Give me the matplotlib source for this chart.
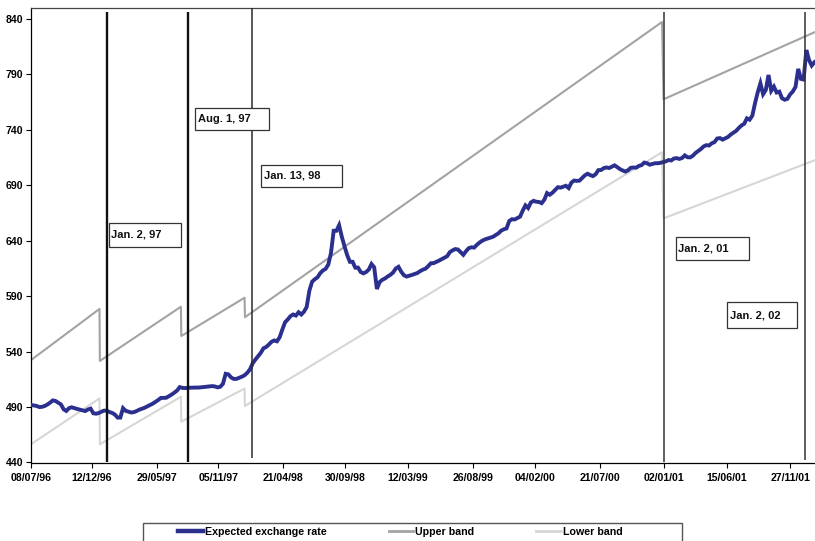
import matplotlib
matplotlib.use('Agg')
import matplotlib.pyplot as plt
import matplotlib.dates as mdates
import pandas as pd
from matplotlib.patches import Rectangle
from matplotlib.lines import Line2D

plt.rcParams['font.family'] = ['Liberation Sans', 'DejaVu Sans']
plt.rcParams['font.weight'] = 'bold'

# ---------------- data ----------------
rate_start = '1996-07-08'
rate_values = [
    491.9, 491.5, 491.0, 490.0, 490.2, 491.0, 492.3, 494.0, 496.0, 495.5,
    494.0, 492.4, 488.0, 486.5, 489.0, 489.8, 489.0, 488.3, 487.7, 487.0,
    486.4, 487.8, 488.6, 484.4, 484.0, 484.6, 485.8, 486.8, 486.8, 485.5,
    484.7, 483.2, 480.5, 480.5, 489.0, 486.6, 485.9, 485.1, 485.4, 486.4,
    487.6, 488.5, 489.4, 490.6, 491.8, 493.1, 494.7, 496.3, 498.2, 498.3,
    498.4, 499.8, 501.3, 503.0, 504.9, 508.0, 507.3, 507.1, 507.4, 507.5,
    507.6, 507.6, 507.6, 507.8, 508.1, 508.4, 508.7, 508.9, 508.6, 507.8,
    508.3, 511.0, 520.0, 519.5, 516.7, 515.4, 515.4, 516.4, 517.4, 518.7,
    520.9, 524.0, 529.4, 532.8, 535.8, 538.9, 543.0, 544.2, 546.4, 548.9,
    550.1, 549.3, 553.0, 560.0, 566.5, 569.0, 572.0, 573.5, 572.5, 575.5,
    573.5, 576.0, 580.3, 595.0, 603.0, 605.3, 607.0, 610.7, 613.2, 614.6,
    618.5, 629.0, 649.0, 649.0, 654.0, 643.7, 635.0, 627.0, 621.0, 621.0,
    615.7, 615.8, 611.8, 610.6, 611.8, 614.0, 619.0, 616.0, 596.5, 602.7,
    604.8, 606.0, 607.8, 609.3, 611.4, 615.0, 616.5, 612.1, 608.9, 607.7,
    608.4, 609.2, 610.0, 610.9, 612.6, 613.9, 614.8, 617.1, 619.7, 619.8,
    620.9, 622.1, 623.4, 624.6, 626.0, 629.7, 631.3, 632.5, 632.1, 629.7,
    627.3, 630.6, 633.3, 634.1, 633.8, 636.3, 638.4, 640.0, 641.2, 642.0,
    642.8, 643.6, 645.1, 646.7, 649.1, 650.3, 651.1, 657.8, 659.4, 659.2,
    660.4, 661.7, 667.2, 671.9, 669.5, 674.5, 676.0, 675.2, 675.0, 673.9,
    677.0, 683.0, 681.5, 683.3, 685.8, 688.3, 687.9, 688.8, 689.6, 687.5,
    692.4, 694.3, 694.0, 694.2, 696.6, 699.0, 700.4, 699.2, 698.3, 700.0,
    703.7, 703.8, 705.5, 706.1, 705.6, 706.8, 708.0, 706.4, 704.6, 703.4,
    702.4, 703.6, 705.8, 706.1, 705.9, 707.5, 708.2, 710.5, 709.9, 708.6,
    709.3, 709.9, 709.9, 710.3, 710.9, 711.6, 712.8, 712.4, 714.2, 714.5,
    713.8, 714.6, 717.0, 715.3, 715.2, 716.7, 719.2, 721.0, 722.8, 725.1,
    726.2, 725.9, 727.9, 729.0, 732.2, 732.6, 731.2, 732.4, 733.6, 735.8,
    737.5, 739.1, 741.7, 744.0, 745.5, 750.4, 749.2, 752.8, 764.0, 773.8,
    782.0, 772.2, 776.0, 789.5, 775.3, 779.0, 773.7, 774.5, 768.5, 767.2,
    768.0, 772.0, 774.6, 778.8, 795.0, 786.0, 785.4, 812.0, 803.0, 798.0,
    801.0,
]

band_dates = ['1996-07-08', '1997-01-01', '1997-01-02', '1997-07-31', '1997-08-01',
              '1998-01-12', '1998-01-13', '2000-12-29', '2001-01-02', '2002-01-28']
upper_values = [532.5, 578.5, 531.6, 580.5, 554.1, 588.6, 571.0, 837.3, 767.6, 828.0]
lower_values = [456.6, 497.8, 456.4, 499.3, 476.8, 506.7, 491.0, 719.8, 660.2, 712.5]

event_labels = ['Jan. 2, 97', 'Aug. 1, 97', 'Jan. 13, 98', 'Jan. 2, 01', 'Jan. 2, 02']
event_line_dates = ['1997-01-20', '1997-08-18', '1998-01-30', '2001-01-03', '2002-01-03']

tick_labels = ['08/07/96', '12/12/96', '29/05/97', '05/11/97', '21/04/98', '30/09/98',
               '12/03/99', '26/08/99', '04/02/00', '21/07/00', '02/01/01', '15/06/01',
               '27/11/01']
y_ticks = [440, 490, 540, 590, 640, 690, 740, 790, 840]

series_names = ['Expected exchange rate', 'Upper band', 'Lower band']

# ---------------- styling ----------------
W, H = 815, 541
BLUE = '#2b2f8e'
UPPER = '#a3a3a3'
LOWER = '#d6d6d6'

rate_dates = pd.date_range(rate_start, periods=len(rate_values), freq='7D')
band_dt = pd.to_datetime(band_dates)
ev_dt = pd.to_datetime(event_line_dates)
tick_dt = pd.to_datetime(tick_labels, format='%d/%m/%y')

fig = plt.figure(figsize=(W / 100, H / 100), dpi=100)
ax_left, ax_bottom_px, ax_top_px = 31.2, 462.5, 8.0
ax = fig.add_axes([ax_left / W, (H - ax_bottom_px) / H, 1 - ax_left / W,
                   (ax_bottom_px - ax_top_px) / H])

ax.plot(band_dt, upper_values, color=UPPER, lw=1.5, zorder=2)
ax.plot(band_dt, lower_values, color=LOWER, lw=1.5, zorder=2)
ax.plot(rate_dates, rate_values, color=BLUE, lw=2.8, zorder=3,
        solid_joinstyle='miter')

line_styles = [
    dict(lw=1.7, color='#111111', ymin=440, ymax=846),
    dict(lw=1.7, color='#111111', ymin=440, ymax=846),
    dict(lw=1.1, color='#2a2a2a', ymin=444, ymax=850),
    dict(lw=1.1, color='#333333', ymin=440, ymax=846),
    dict(lw=1.1, color='#333333', ymin=442, ymax=846),
]
for d, st in zip(ev_dt, line_styles):
    ax.vlines(d, st['ymin'], st['ymax'], colors=st['color'], lw=st['lw'], zorder=4)

# axes scaling
x0 = mdates.date2num(tick_dt[0])
x_last = mdates.date2num(tick_dt[-1])
px_per_day = (790.5 - 31.2) / (x_last - x0)
ax.set_xlim(x0, x0 + (W - ax_left) / px_per_day)
ax.set_ylim(440, 840 + (19 - ax_top_px) * 50 / 55.44)

ax.set_xticks(tick_dt)
ax.set_xticklabels(tick_labels)
ax.set_yticks(y_ticks)
ax.tick_params(axis='both', direction='out', length=3.5, width=0.8, labelsize=7.6,
               colors='black')
ax.tick_params(axis='x', pad=4)
ax.tick_params(axis='y', pad=2)
for lab in ax.get_xticklabels() + ax.get_yticklabels():
    lab.set_fontweight('bold')

ax.spines['right'].set_visible(False)
ax.spines['top'].set_color('#444444')
ax.spines['top'].set_linewidth(0.9)
ax.spines['left'].set_linewidth(0.9)
ax.spines['bottom'].set_linewidth(0.9)

# annotation boxes (pixel layout, top-left origin)
box_layout = [
    (109, 223, 181, 247),
    (195, 108, 269, 130),
    (261, 165, 342, 187),
    (676, 237, 749, 260),
    (727, 302, 797, 328),
]
for lab, (bx0, by0, bx1, by1) in zip(event_labels, box_layout):
    fig.patches.append(Rectangle((bx0 / W, 1 - by1 / H), (bx1 - bx0) / W,
                                 (by1 - by0) / H, transform=fig.transFigure,
                                 facecolor='white', edgecolor='#333333', lw=0.9,
                                 zorder=10))
    fig.text((bx0 + 2.5) / W, 1 - ((by0 + by1) / 2) / H, lab, fontsize=8,
             fontweight='bold', va='center', ha='left', color='#111111', zorder=11)

# legend
handles = [Line2D([], [], color=BLUE, lw=3.2),
           Line2D([], [], color=UPPER, lw=2.0),
           Line2D([], [], color=LOWER, lw=2.0)]
fig.legend(handles, series_names, loc='upper left',
           bbox_to_anchor=(178 / W, 1 - 527 / H), ncol=3, frameon=False,
           prop=dict(size=7.7, weight='bold'), handlelength=2.3,
           handletextpad=0.2, columnspacing=5.8, borderpad=0, borderaxespad=0)
fig.patches.append(Rectangle((143 / W, -0.02), (682 - 143) / W, 0.02 + (H - 523) / H,
                             transform=fig.transFigure, fill=False,
                             edgecolor='#555555', lw=1.0, zorder=5))

fig.savefig('out.png', dpi=100)
